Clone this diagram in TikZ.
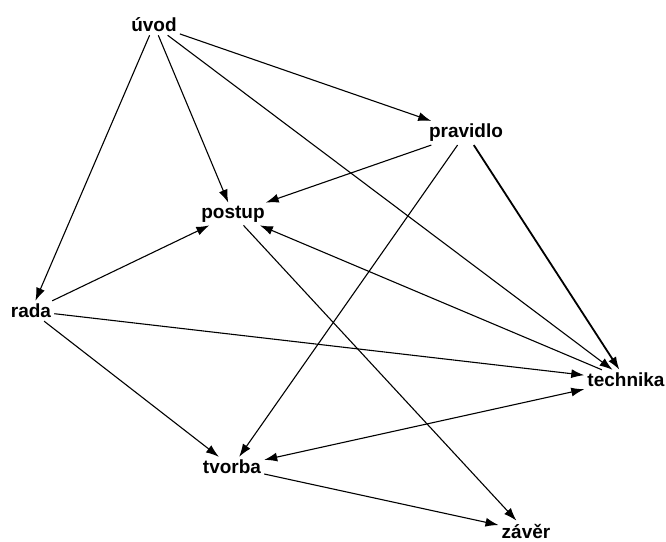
\documentclass[tikz,border=0pt]{standalone}
\usepackage{fontspec}
\setmainfont{Liberation Sans}
\usetikzlibrary{arrows.meta}
\begin{document}
\begin{tikzpicture}[x=1pt,y=-1pt,
  lbl/.style={font=\fontsize{19}{22}\selectfont\bfseries, inner sep=3pt, text=black},
  edge/.style={draw=black, line width=1.1pt, -{Latex[length=13pt,width=9pt]}},
  bold edge/.style={edge, line width=1.8pt}]
\useasboundingbox (0,0) rectangle (666,541);
\node[lbl] (uvod) at (154,25) {úvod};
\node[lbl] (pravidlo) at (466,133) {pravidlo};
\node[lbl] (postup) at (233,214) {postup};
\node[lbl] (rada) at (31,311) {rada};
\node[lbl] (technika) at (626,380) {technika};
\node[lbl] (tvorba) at (232,467) {tvorba};
\node[lbl] (zaver) at (526,531) {závěr};
\draw[edge] (uvod) -- (pravidlo);
\draw[edge] (uvod) -- (postup);
\draw[edge] (uvod) -- (rada);
\draw[edge] (uvod) -- (technika);
\draw[edge] (pravidlo) -- (postup);
\draw[edge] (pravidlo) -- (tvorba);
\draw[bold edge] (pravidlo) -- (technika);
\draw[edge] (technika) -- (postup);
\draw[edge] (postup) -- (zaver);
\draw[edge] (rada) -- (postup);
\draw[edge] (rada) -- (technika);
\draw[edge] (rada) -- (tvorba);
\draw[edge, {Latex[length=13pt,width=9pt]}-{Latex[length=13pt,width=9pt]}] (tvorba) -- (technika);
\draw[edge] (tvorba) -- (zaver);
\end{tikzpicture}
\end{document}
